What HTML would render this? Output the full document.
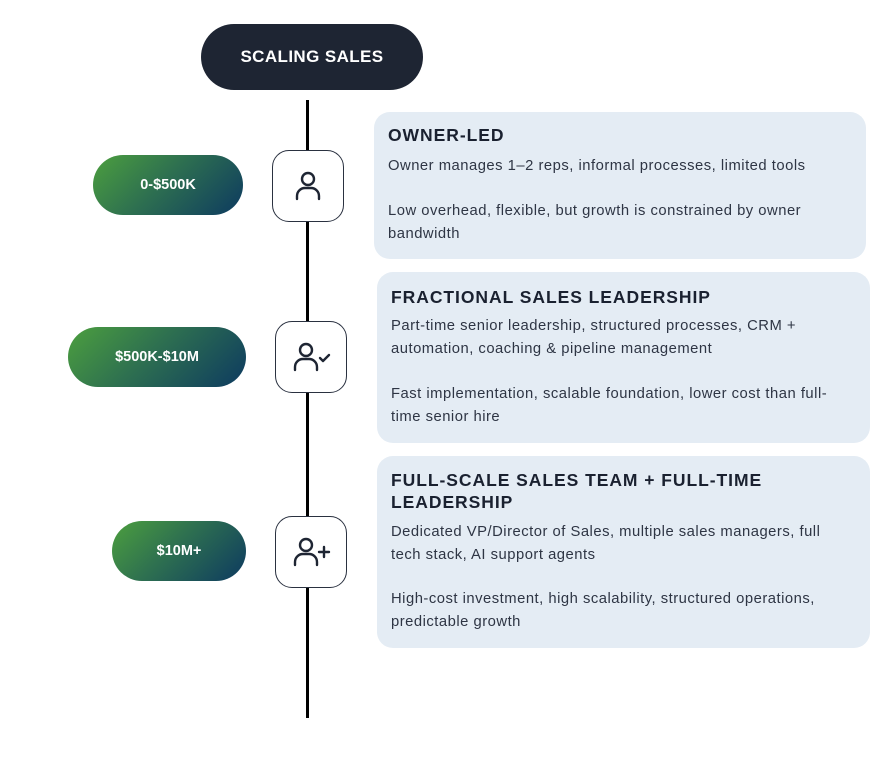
<!DOCTYPE html>
<html><head><meta charset="utf-8">
<style>
body{margin:0;width:889px;height:763px;background:#fff;position:relative;overflow:hidden;font-family:"Liberation Sans",sans-serif;}
.a{position:absolute}
.pill{position:absolute;border-radius:30px;background:linear-gradient(135deg,#4c9f3e 0%,#2e7050 45%,#0d3a60 100%);color:#fff;font-weight:bold;font-size:14.5px;display:flex;align-items:center;justify-content:center;height:60px}
.box{position:absolute;width:72px;height:72px;border:1.3px solid #2a3140;border-radius:17px;background:#fff;box-sizing:border-box;display:flex;align-items:center;justify-content:center}
.card{position:absolute;background:#e4ecf4;border-radius:16px}
.h{position:absolute;font-weight:bold;font-size:17.5px;color:#1a2130;letter-spacing:0.95px;white-space:nowrap;line-height:22px}
.t{position:absolute;font-size:14.8px;color:#2e3544;letter-spacing:0.5px;white-space:nowrap;line-height:20px}
</style></head><body>
<div class="a" style="left:201px;top:24px;width:222px;height:66px;border-radius:33px;background:#1e2533;color:#fff;font-weight:bold;font-size:17px;display:flex;align-items:center;justify-content:center;letter-spacing:0.4px">SCALING SALES</div>
<div class="a" style="left:306px;top:100px;width:3px;height:618px;background:#000"></div>

<div class="pill" style="left:93px;top:155px;width:150px">0-$500K</div>
<div class="pill" style="left:68px;top:327px;width:178px">$500K-$10M</div>
<div class="pill" style="left:112px;top:521px;width:134px">$10M+</div>

<div class="box" style="left:272px;top:150px"><svg width="34" height="34" viewBox="0 0 34 34" fill="none" stroke="#1e2533" stroke-width="2.4" stroke-linecap="round"><circle cx="17" cy="10" r="6"/><path d="M6 30v-3a8 8 0 0 1 8-8h6a8 8 0 0 1 8 8v3"/></svg></div>
<div class="box" style="left:275px;top:321px"><svg width="40" height="34" viewBox="0 0 40 34" fill="none" stroke="#1e2533" stroke-width="2.4" stroke-linecap="round" stroke-linejoin="round"><circle cx="15" cy="10" r="6"/><path d="M4 30v-3a8 8 0 0 1 8-8h6a8 8 0 0 1 8 8v3"/><path d="M29 18l3 3 6-6"/></svg></div>
<div class="box" style="left:275px;top:516px"><svg width="40" height="34" viewBox="0 0 40 34" fill="none" stroke="#1e2533" stroke-width="2.4" stroke-linecap="round"><circle cx="15" cy="10" r="6"/><path d="M4 30v-3a8 8 0 0 1 8-8h6a8 8 0 0 1 8 8v3"/><path d="M33 12v10M28 17h10"/></svg></div>

<div class="card" style="left:374px;top:112px;width:492px;height:147px"></div>
<div class="h" style="left:388px;top:124px">OWNER-LED</div>
<div class="t" style="left:388px;top:156px">Owner manages 1–2 reps, informal processes, limited tools</div>
<div class="t" style="left:388px;top:201px">Low overhead, flexible, but growth is constrained by owner</div>
<div class="t" style="left:388px;top:224px">bandwidth</div>

<div class="card" style="left:377px;top:272px;width:493px;height:171px"></div>
<div class="h" style="left:391px;top:286px">FRACTIONAL SALES LEADERSHIP</div>
<div class="t" style="left:391px;top:316px">Part-time senior leadership, structured processes, CRM +</div>
<div class="t" style="left:391px;top:339px">automation, coaching &amp; pipeline management</div>
<div class="t" style="left:391px;top:384px">Fast implementation, scalable foundation, lower cost than full-</div>
<div class="t" style="left:391px;top:407px">time senior hire</div>

<div class="card" style="left:377px;top:456px;width:493px;height:192px"></div>
<div class="h" style="left:391px;top:469px">FULL-SCALE SALES TEAM + FULL-TIME</div>
<div class="h" style="left:391px;top:491px">LEADERSHIP</div>
<div class="t" style="left:391px;top:522px">Dedicated VP/Director of Sales, multiple sales managers, full</div>
<div class="t" style="left:391px;top:545px">tech stack, AI support agents</div>
<div class="t" style="left:391px;top:589px">High-cost investment, high scalability, structured operations,</div>
<div class="t" style="left:391px;top:612px">predictable growth</div>
</body></html>
